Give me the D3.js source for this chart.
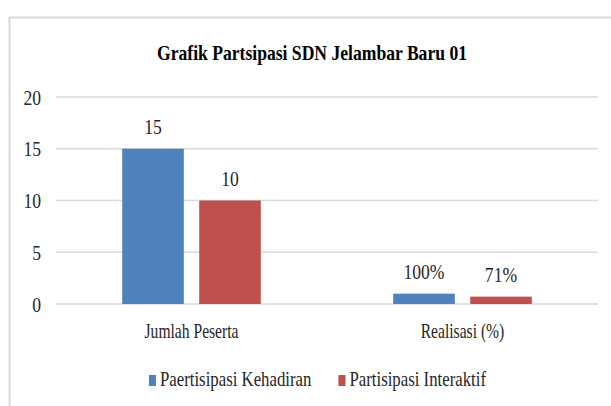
<!DOCTYPE html>
<html>
<head>
<meta charset="utf-8">
<script src="https://cdn.jsdelivr.net/npm/d3@7"></script>
<style>
  body { margin: 0; background: #fff; }
  text { font-family: "Liberation Serif", "Times New Roman", serif; fill: #262626; }
</style>
</head>
<body>
<div id="chart"></div>
<script>
// chart data
var categories = ["Jumlah Peserta", "Realisasi (%)"];
var seriesNames = ["Paertisipasi Kehadiran", "Partisipasi Interaktif"];
var kehadiran = [15, 1];
var interaktif = [10, 0.71];
var valueLabels = [["15", "100%"], ["10", "71%"]];
var yTicks = [0, 5, 10, 15, 20];
var colors = ["#4f81bd", "#c0504d"];

var svgWidth = 611;
var svgHeight = 406;
var squeeze = 0.8; // the reference text is horizontally condensed

var svg = d3.select("#chart")
    .append("svg")
    .attr("width", svgWidth)
    .attr("height", svgHeight);

// outer chart frame (runs off the right and bottom edges)
svg.append("rect")
    .attr("x", 9.5)
    .attr("y", 17.5)
    .attr("width", 700)
    .attr("height", 500)
    .attr("fill", "none")
    .attr("stroke", "#d9d9d9")
    .attr("stroke-width", 2);

// helper for condensed text
function addText(parent, x, y, str, size, anchor, sx) {
    return parent.append("text")
        .attr("transform", `translate(${x}, ${y}) scale(${sx || squeeze}, 1)`)
        .attr("text-anchor", anchor || "middle")
        .style("font-size", size + "px")
        .text(str);
}

var plot = { left: 56, right: 598, top: 97, bottom: 304 };

var xScale = d3.scaleBand()
    .domain(categories)
    .range([plot.left, plot.right]);

var xInner = d3.scaleBand()
    .domain(seriesNames)
    .range([0, xScale.bandwidth()])
    .paddingInner(0.2)
    .paddingOuter(0.86);

var yScale = d3.scaleLinear()
    .domain([0, 20])
    .range([plot.bottom, plot.top]);

// gridlines
svg.append("g")
    .selectAll("line")
    .data(yTicks)
    .enter()
    .append("line")
    .attr("x1", plot.left)
    .attr("x2", plot.right)
    .attr("y1", d => yScale(d))
    .attr("y2", d => yScale(d))
    .attr("stroke", "#d9d9d9")
    .attr("stroke-width", 1.5);

// y tick labels
yTicks.forEach(function(t) {
    addText(svg, 41, yScale(t) + 7.5, String(t), 22, "end", 0.8);
});

// bars
var series = [kehadiran, interaktif];
series.forEach(function(vals, si) {
    svg.append("g")
        .selectAll("rect")
        .data(vals)
        .enter()
        .append("rect")
        .attr("x", (d, i) => xScale(categories[i]) + xInner(seriesNames[si]))
        .attr("y", d => yScale(d))
        .attr("width", xInner.bandwidth())
        .attr("height", d => yScale(0) - yScale(d))
        .attr("fill", colors[si]);

    vals.forEach(function(d, i) {
        var cx = xScale(categories[i]) + xInner(seriesNames[si]) + xInner.bandwidth() / 2;
        addText(svg, cx, yScale(d) - 15, valueLabels[si][i], 22, "middle", 0.8);
    });
});

// category labels
categories.forEach(function(c) {
    addText(svg, xScale(c) + xScale.bandwidth() / 2, 338, c, 20, "middle", 0.78);
});

// title
svg.append("text")
    .attr("x", 312)
    .attr("y", 60)
    .attr("text-anchor", "middle")
    .attr("textLength", 310)
    .attr("lengthAdjust", "spacingAndGlyphs")
    .style("font-size", "21px")
    .style("font-weight", "bold")
    .style("fill", "#000")
    .text("Grafik Partsipasi SDN Jelambar Baru 01");

// legend
var legend = svg.append("g");
var lx = 0;
seriesNames.forEach(function(name, i) {
    legend.append("rect")
        .attr("x", lx)
        .attr("y", 375)
        .attr("width", 7)
        .attr("height", 11)
        .attr("fill", colors[i]);
    var t = addText(legend, lx + 11, 386, name, 20, "start", 0.84);
    var w = t.node().getComputedTextLength() * 0.84;
    lx += 11 + w + 27;
});
var legendWidth = lx - 27;
legend.attr("transform", `translate(${317.5 - legendWidth / 2}, 0)`);
</script>
</body>
</html>
